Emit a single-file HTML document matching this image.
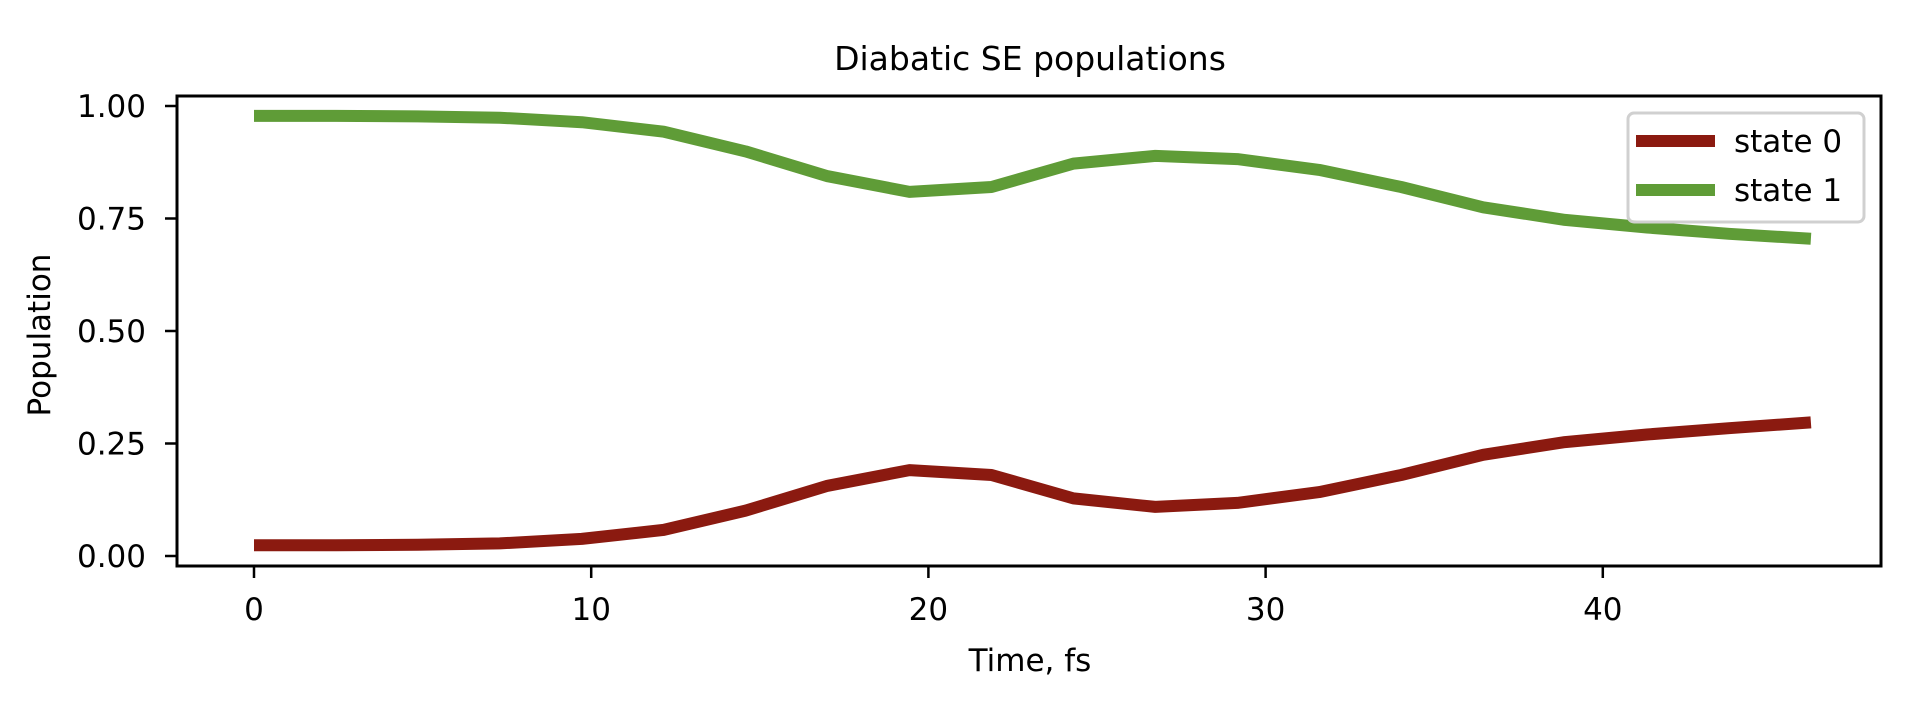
<!DOCTYPE html>
<html><head><meta charset="utf-8"><style>
html,body{margin:0;padding:0;background:#fff;}
svg text{font-family:"DejaVu Sans","Liberation Sans",sans-serif;fill:#000;}
</style></head><body>
<svg id="chart" width="1926" height="723" viewBox="0 0 1926 723" xmlns="http://www.w3.org/2000/svg">
<rect width="1926" height="723" fill="#fff"/>
<text x="1030" y="70" font-size="33" text-anchor="middle">Diabatic SE populations</text>
<g id="plot"></g>
<rect x="177" y="96" width="1704" height="470" fill="none" stroke="#000" stroke-width="3"/>
<text x="1030" y="671" font-size="31" text-anchor="middle">Time, fs</text>
<text x="0" y="0" font-size="31" text-anchor="middle" transform="translate(50,335) rotate(-90)">Population</text>
<g>
<rect x="1628" y="113" width="236" height="109" rx="6" fill="#fff" fill-opacity="0.8" stroke="#d0d0d0" stroke-width="3"/>
<line x1="1636" y1="141" x2="1715" y2="141" stroke="#8b1a10" stroke-width="12"/>
<text x="1734" y="152" font-size="31">state 0</text>
<line x1="1636" y1="190" x2="1715" y2="190" stroke="#5f9c37" stroke-width="12"/>
<text x="1734" y="201" font-size="31">state 1</text>
</g>
</svg>
<script>
const times = [0,2.43,4.86,7.29,9.72,12.15,14.58,17.01,19.44,21.87,24.3,26.73,29.16,31.59,34.02,36.45,38.88,41.31,43.74,46.17];
const state1 = [0.978,0.978,0.977,0.974,0.964,0.943,0.899,0.844,0.809,0.820,0.872,0.889,0.882,0.858,0.820,0.775,0.747,0.730,0.716,0.705];
const state0 = [0.024,0.024,0.025,0.028,0.038,0.058,0.101,0.156,0.191,0.180,0.128,0.109,0.118,0.142,0.180,0.225,0.253,0.270,0.284,0.297];
const xTicks = [0,10,20,30,40];
const yTicks = [0,0.25,0.5,0.75,1.0];
const yTickLabels = ["0.00","0.25","0.50","0.75","1.00"];
const NS = "http://www.w3.org/2000/svg";
function xs(v){return 254 + v*33.72;}
function ys(v){return 556 - v*450;}
const plot = document.getElementById('plot');
function mk(tag, attrs){const e=document.createElementNS(NS,tag);for(const k in attrs)e.setAttribute(k,attrs[k]);return e;}
xTicks.forEach((t)=>{
  const l = mk('line',{x1:xs(t),x2:xs(t),y1:566,y2:578,stroke:'#000','stroke-width':2.5});
  
  
  plot.appendChild(l);
  const tx = mk('text',{x:xs(t),y:620,'font-size':31,'text-anchor':'middle'});
  
  
  tx.textContent = String(t);
  plot.appendChild(tx);
});
yTicks.forEach((t,i)=>{
  const l = mk('line',{x1:165,x2:177,y1:ys(t),y2:ys(t),stroke:'#000','stroke-width':2.5});
  
  
  plot.appendChild(l);
  const tx = mk('text',{x:146,y:ys(t)+11,'font-size':31,'text-anchor':'end'});
  
  
  tx.textContent = yTickLabels[i];
  plot.appendChild(tx);
});
function line(vals,color,name){
  const d = vals.map((v,i)=>(i?'L':'M')+xs(times[i]).toFixed(1)+','+ys(v).toFixed(1)).join(' ');
  const p = mk('path',{d:d,fill:'none',stroke:color,'stroke-width':12,'stroke-linejoin':'round','stroke-linecap':'butt'});
  
  
  plot.appendChild(p);
}
line(state0,'#8b1a10','state-0-line');
line(state1,'#5f9c37','state-1-line');
</script>
</body></html>
